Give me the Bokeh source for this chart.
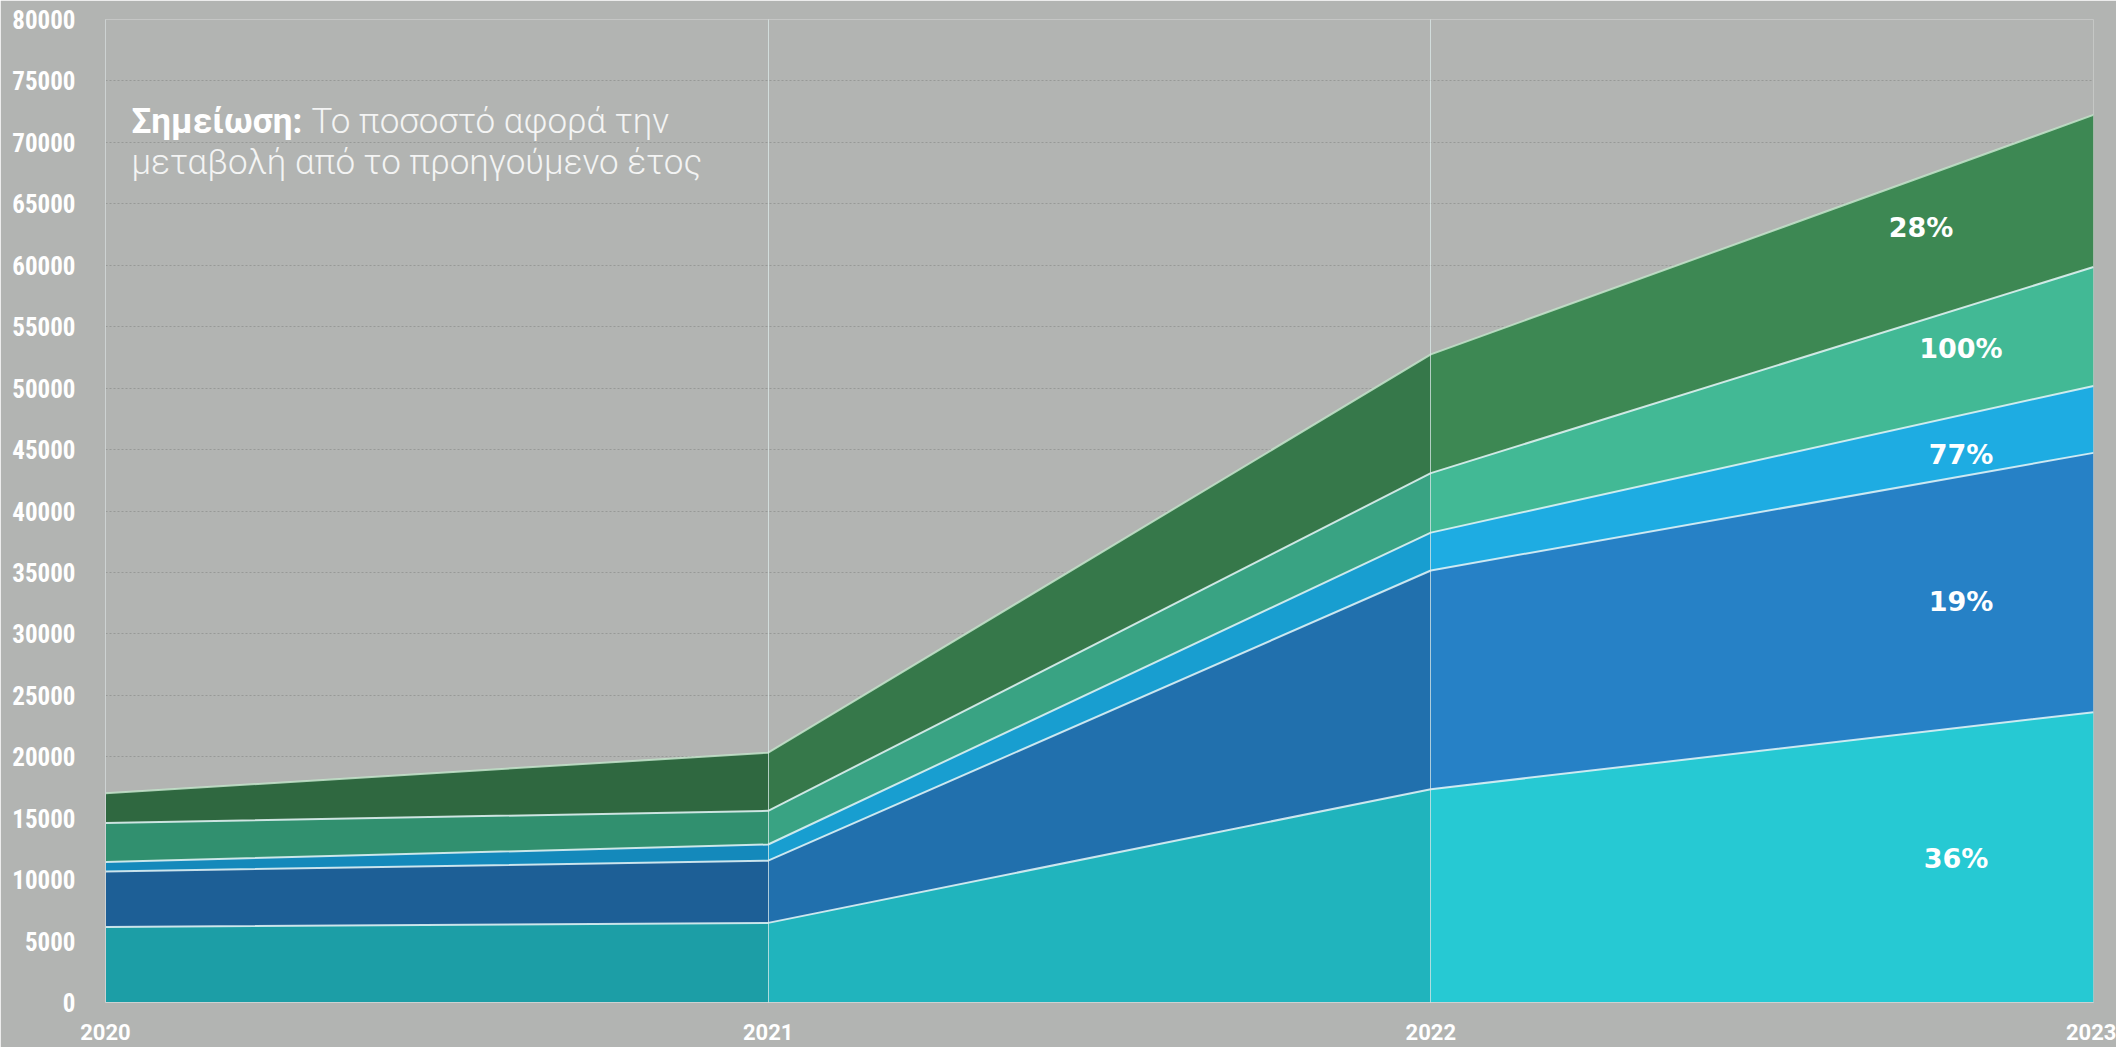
import numpy as np
from bokeh.plotting import figure
from bokeh.models import ColumnDataSource, FixedTicker, Label
from bokeh.embed import file_html
from bokeh.resources import INLINE

# ---- data (stacked layers, bottom to top) ----
years = [2020, 2021, 2022, 2023]
layer_1 = [6150, 6480, 17360, 23630]
layer_2 = [4510, 5060, 17800, 21100]
layer_3 = [770, 1320, 3080, 5450]
layer_4 = [3170, 2740, 4840, 9680]
layer_5 = [2430, 4730, 9670, 12380]
pct_labels = ["36%", "19%", "77%", "100%", "28%"]
y_ticks = list(range(0, 80001, 5000))
note_bold = "Σημείωση:"
note_line1 = "Το ποσοστό αφορά την"
note_line2 = "μεταβολή από το προηγούμενο έτος"

layers = [layer_1, layer_2, layer_3, layer_4, layer_5]
names = ["l1", "l2", "l3", "l4", "l5"]

# colours per interval (left -> right gets lighter)
seg_colors = [
    ["#1c9ea6", "#1d5f96", "#1489bb", "#31906f", "#2f6840"],
    ["#20b4bd", "#2170ad", "#189ed0", "#39a383", "#36784a"],
    ["#26c9d3", "#2681c6", "#1eace2", "#42b995", "#3d8853"],
]
# small pixel nudges for the percentage labels (dx, dy)
pct_nudge = [(-5, 7), (0, 0), (0, -9), (0, 13), (-40, 8)]

BG = "#b2b4b2"

p = figure(width=2116, height=1047, x_range=(2020, 2023), y_range=(0, 80000),
           output_backend="svg", toolbar_location=None,
           min_border_left=105, min_border_right=23, min_border_top=19,
           min_border_bottom=45)
p.background_fill_color = BG
p.border_fill_color = BG
p.outline_line_color = None

for seg in range(3):
    d = {"x": years[seg:seg + 2]}
    for n, l in zip(names, layers):
        d[n] = l[seg:seg + 2]
    src = ColumnDataSource(d)
    p.varea_stack(stackers=names, x="x", color=seg_colors[seg], source=src)

cum = np.cumsum(np.array(layers, dtype=float), axis=0)
for i in range(len(layers)):
    col = "#c4e4cb" if i == len(layers) - 1 else "#e6f6f8"
    p.line(years, cum[i].tolist(), line_color=col, line_alpha=0.85, line_width=2)

# percentage labels inside each layer near the right edge
lx = 2022.8
frac = (lx - years[2]) / (years[3] - years[2])
bottoms = np.vstack([np.zeros(4), cum[:-1]])
for i, txt in enumerate(pct_labels):
    b = bottoms[i][2] + (bottoms[i][3] - bottoms[i][2]) * frac
    t = cum[i][2] + (cum[i][3] - cum[i][2]) * frac
    dx, dy = pct_nudge[i]
    p.add_layout(Label(x=lx, y=float((b + t) / 2), x_offset=dx, y_offset=dy,
                       text=txt, text_align="center",
                       text_baseline="middle", text_color="white",
                       text_font="DejaVu Sans", text_font_style="bold",
                       text_font_size="27px"))

# note
p.add_layout(Label(x=2020, y=71690, x_offset=26, text=note_bold,
                   text_baseline="middle", text_color="white",
                   text_font="Roboto", text_font_style="bold",
                   text_font_size="35px"))
p.add_layout(Label(x=2020, y=71690, x_offset=206, text=note_line1,
                   text_baseline="middle", text_color="#f4f4f4",
                   text_font="'Roboto Light', Roboto",
                   text_font_size="35px"))
p.add_layout(Label(x=2020, y=68350, x_offset=26, text=note_line2,
                   text_baseline="middle", text_color="#f4f4f4",
                   text_font="'Roboto Light', Roboto",
                   text_font_size="35px"))

# axes & grids
p.xaxis.ticker = FixedTicker(ticks=years)
p.yaxis.ticker = FixedTicker(ticks=y_ticks)
for ax in (p.xaxis, p.yaxis):
    ax.axis_line_color = "#cdd2d2"
    ax.major_tick_line_color = None
    ax.minor_tick_line_color = None
    ax.major_label_text_color = "white"
    ax.major_label_text_font_style = "bold"
p.yaxis.major_label_text_font = "'Roboto Condensed', 'Liberation Sans Narrow', 'Liberation Sans', sans-serif"
p.yaxis.major_label_text_font_size = "25px"
p.xaxis.major_label_text_font = "Roboto"
p.xaxis.major_label_text_font_size = "22px"
p.xaxis.major_label_standoff = 15
p.yaxis.major_label_standoff = 24

p.xgrid.level = "overlay"
p.xgrid.grid_line_color = "#e0eeee"
p.xgrid.grid_line_alpha = 0.7
p.xgrid.grid_line_width = 1
p.ygrid.grid_line_color = "#979997"
p.ygrid.grid_line_dash = "2 2"
p.ygrid.grid_line_width = 1

open("out.html", "w").write(file_html(p, INLINE))
